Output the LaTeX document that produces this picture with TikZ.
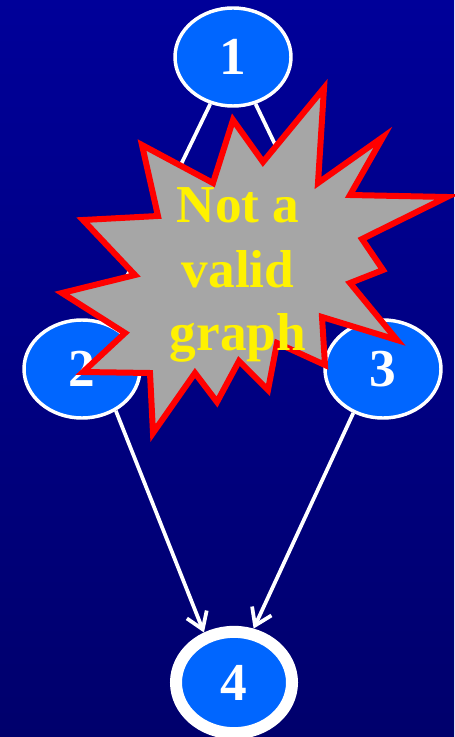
\documentclass[tikz,border=0pt]{standalone}
\usepackage{fontspec}
\setmainfont{Liberation Serif}
\usetikzlibrary{shapes.geometric,arrows.meta}
\definecolor{bgtop}{RGB}{0,0,153}
\definecolor{bgbot}{RGB}{0,0,108}
\definecolor{nodeblue}{RGB}{0,102,255}
\definecolor{burstgray}{RGB}{166,166,166}
\tikzset{
  gnode/.style={ellipse, draw=white, line width=2.6pt, fill=nodeblue, inner sep=0pt,
    minimum width=87pt, minimum height=73.5pt, text=white, font=\fontsize{40}{48}\selectfont\bfseries},
  sinknode/.style={gnode, line width=9pt, minimum width=87pt, minimum height=76pt},
  edge/.style={draw=white, line width=2.8pt},
  arrowedge/.style={edge, -{Straight Barb[length=12pt,width=16pt]}},
  burst/.style={draw=red, line width=4.5pt, fill=burstgray, line join=miter, miter limit=20},
  bursttext/.style={text=yellow, font=\fontsize{40}{48}\selectfont\bfseries, anchor=base, inner sep=0pt}
}
\begin{document}
\begin{tikzpicture}[x=0.75pt,y=-0.75pt]
\shade[top color=bgtop, bottom color=bgbot] (0,0) rectangle (454,737);
\useasboundingbox (0,0) rectangle (454,737);
% nodes
\node[gnode] (n1) at (233,57) {1};
\node[gnode] (n2) at (82,369) {2};
\node[gnode] (n3) at (383,369) {3};
\node[sinknode] (n4) at (234,682.5) {4};
% edges
\draw[edge] (n1) -- (n2);
\draw[edge] (n1) -- (n3);
\draw[arrowedge] (n2.-51) -- (n4.121);
\draw[arrowedge] (n3.-124) -- (n4.70);
% starburst
\draw[burst] (324,88) -- (318,183) -- (383,137) -- (350,195) -- (447,197)
  -- (362,239) -- (383,270) -- (350,283) -- (397,340) -- (322,317)
  -- (325,365) -- (277,343) -- (268,390) -- (239,361) -- (217,402)
  -- (195,373) -- (153,433) -- (150,373) -- (83,372) -- (125,333)
  -- (62,293) -- (135,275) -- (83,220) -- (158,216) -- (142,145)
  -- (213,183) -- (233,120) -- (263,162) -- cycle;
\node[bursttext] (t1) at (238,223) {Not a};
\node[bursttext] (t2) at (238,287) {valid};
\node[bursttext] (t3) at (238,350) {graph};
\end{tikzpicture}
\end{document}
